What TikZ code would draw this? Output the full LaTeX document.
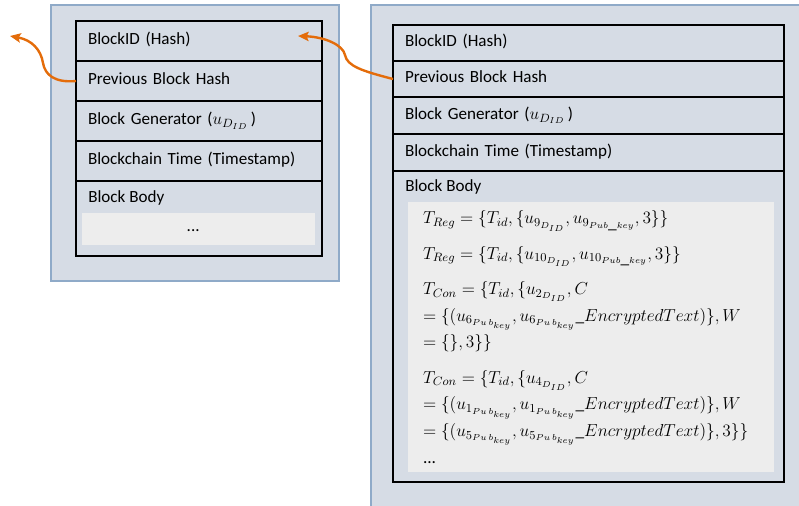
\RequirePackage{fix-cm}
\documentclass[tikz,border=0pt]{standalone}
\usepackage{fontspec}
\setmainfont{Carlito}
\usetikzlibrary{positioning,arrows.meta}

\definecolor{panelfill}{RGB}{214,220,229}
\definecolor{panelline}{RGB}{143,170,200}
\definecolor{bodyfill}{RGB}{237,237,237}
\definecolor{linkorange}{RGB}{228,108,10}

\begin{document}
\begin{tikzpicture}[x=0.75pt,y=-0.75pt,
    font=\fontsize{12.8}{15}\selectfont,
    panel/.style={fill=panelfill,draw=panelline,line width=1.5pt},
    field/.style={draw=black,line width=1.4pt,outer sep=0pt,inner xsep=9pt,
      align=left,text height=9pt,text depth=3pt},
    lfield/.style={field,text width=166.5pt},
    rfield/.style={field,text width=275pt},
    txbox/.style={fill=bodyfill,inner sep=0pt,outer sep=0pt},
    link/.style={draw=linkorange,line width=1.8pt,
      -{Stealth[length=8pt,width=7pt,inset=1.5pt]}}]

    \useasboundingbox (0,0) rectangle (799,506);

    % backgrounds of both blocks
    \path[panel] (51,5) rectangle (339,281);
    \path[panel] (371,5) rectangle (820,530);

    % older block
    \node [lfield,minimum height=30pt,anchor=north west] (l1) at (76,21) {BlockID (Hash)};
    \node [lfield,minimum height=30pt,below=0pt of l1] (l2) {Previous Block Hash};
    \node [lfield,minimum height=30pt,below=0pt of l2] (l3) {Block Generator ($u_{D_{ID}}$\,)};
    \node [lfield,minimum height=30pt,below=0pt of l3] (l4) {Blockchain Time (Timestamp)};
    \node [lfield,minimum height=56.25pt,below=0pt of l4] (l5) {};
    \node [anchor=north west,inner xsep=9pt,inner ysep=0pt] (l5t) at ([yshift=-7pt]l5.north west) {Block Body};
    \node [txbox,minimum width=174.75pt,minimum height=24pt,anchor=north west] (lbody)
        at ([xshift=4.5pt,yshift=-24pt]l5.north west) {};
    \node (ldots) at ([xshift=-4pt,yshift=-1pt]lbody.center) {...};

    % newer block
    \node [rfield,minimum height=27pt,anchor=north west] (r1) at (393,25) {BlockID (Hash)};
    \node [rfield,minimum height=27pt,below=0pt of r1] (r2) {Previous Block Hash};
    \node [rfield,minimum height=27.75pt,below=0pt of r2] (r3) {Block Generator ($u_{D_{ID}}$\,)};
    \node [rfield,minimum height=27.75pt,below=0pt of r3] (r4) {Blockchain Time (Timestamp)};
    \node [rfield,minimum height=233.25pt,below=0pt of r4] (r5) {};
    \node [anchor=north west,inner xsep=9pt,inner ysep=0pt] (r5t) at ([yshift=-6pt]r5.north west) {Block Body};
    \node [txbox,minimum width=274.5pt,minimum height=202.5pt,anchor=north west,
        text width=252pt,inner xsep=11pt,align=left,font=\fontsize{13}{20}\selectfont] (rbody)
        at ([xshift=11.25pt,yshift=-23.25pt]r5.north west) {%
        \lineskiplimit=-30pt \relpenalty=10000 \binoppenalty=10000
        $T_{Reg}=\{T_{id},\{u_{9_{D_{ID}}},u_{9_{Pub\_key}},3\}\}$\\[6.5pt]
        $T_{Reg}=\{T_{id},\{u_{10_{D_{ID}}},u_{10_{Pub\_key}},3\}\}$\\[6.5pt]
        $T_{Con}=\{T_{id},\{u_{2_{D_{ID}}},C$\\
        $=\{(u_{6_{Pu\,b_{key}}},u_{6_{Pu\,b_{key}}}\_EncryptedText)\},W$\\
        $=\{\},3\}\}$\\[6.5pt]
        $T_{Con}=\{T_{id},\{u_{4_{D_{ID}}},C$\\
        $=\{(u_{1_{Pu\,b_{key}}},u_{1_{Pu\,b_{key}}}\_EncryptedText)\},W$\\
        $=\{(u_{5_{Pu\,b_{key}}},u_{5_{Pu\,b_{key}}}\_EncryptedText)\},3\}\}$\\
        ...};

    % hash links back to the previous block
    \coordinate (prevL) at (10,36);
    \coordinate (prevR) at (298,36);
    \draw[link] (l2.west) .. controls (55,83) and (45,75) .. (43,63)
        .. controls (41,50) and (32,40) .. (prevL);
    \draw[link] (r2.west) .. controls (362,71) and (347,66) .. (345,55)
        .. controls (343,45) and (325,37) .. (prevR);
\end{tikzpicture}
\end{document}
